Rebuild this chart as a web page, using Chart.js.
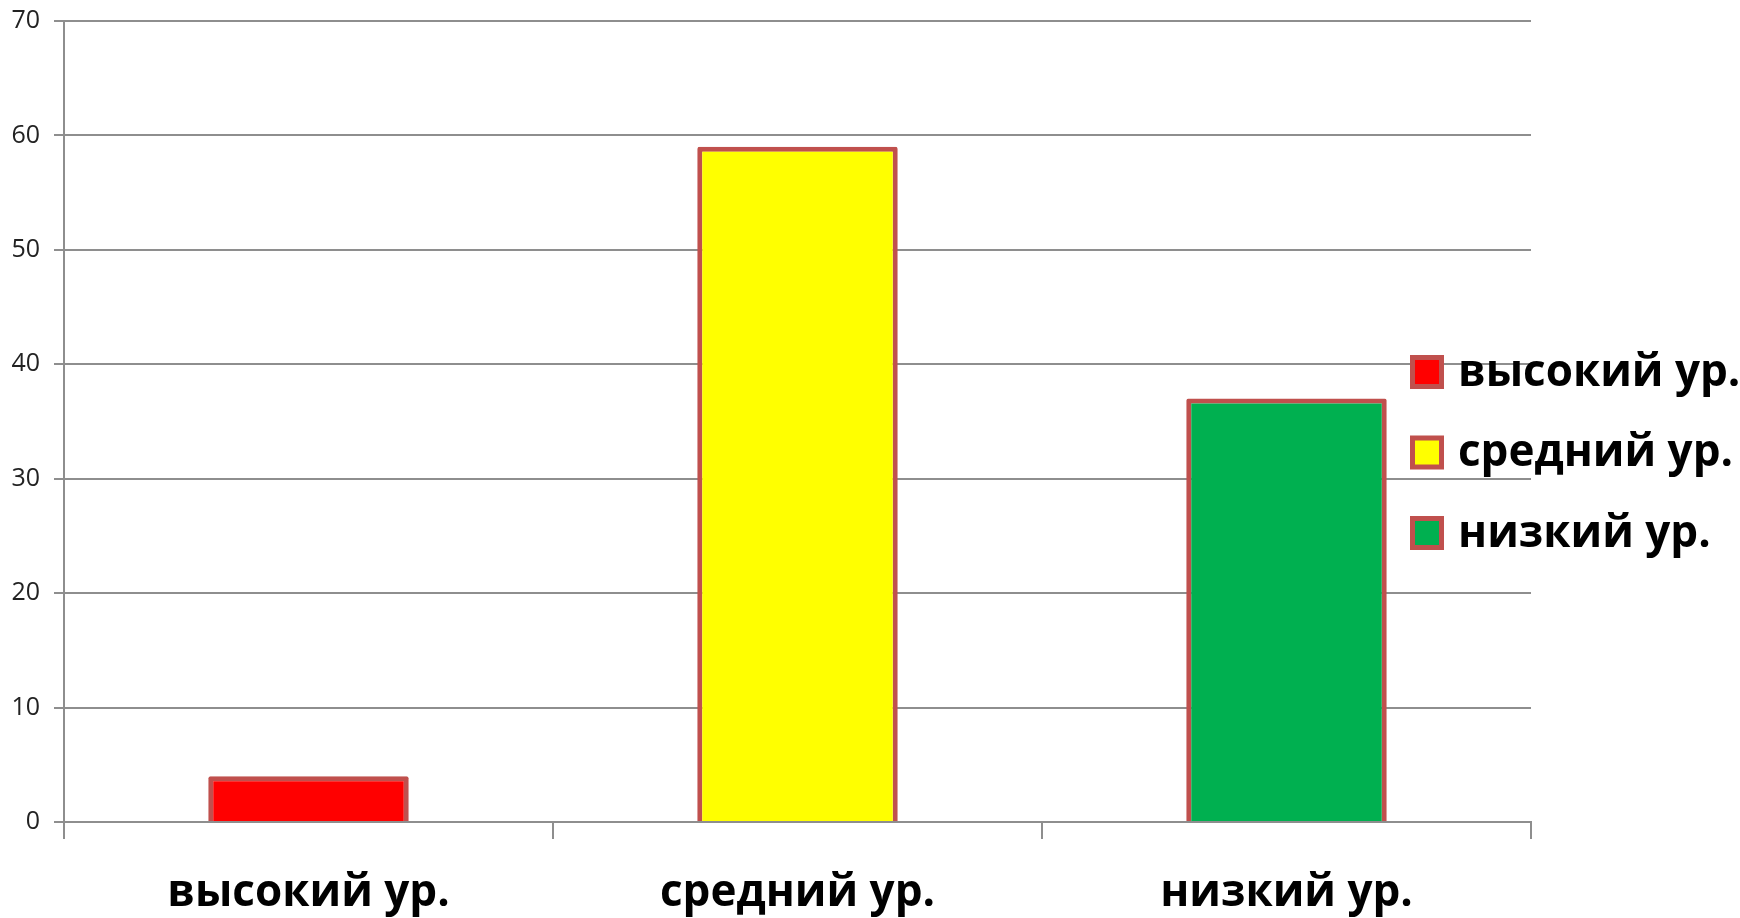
<!DOCTYPE html>
<html>
<head>
<meta charset="utf-8">
<script src="https://cdn.jsdelivr.net/npm/chart.js@4.4.0/dist/chart.umd.min.js"></script>
<style>
  html, body { margin: 0; padding: 0; background: #fff; }
  #wrap { width: 1740px; height: 918px; }
</style>
</head>
<body>
<div id="wrap"><canvas id="levelsChart"></canvas></div>
<script>
// Data
const categories = ['высокий ур.', 'средний ур.', 'низкий ур.'];
const levelValues = [4, 59, 37];
const barColors = ['#FF0000', '#FFFF00', '#00B050'];
const yTicks = [0, 10, 20, 30, 40, 50, 60, 70];

const BORDER_COLOR = '#C0504D';
const GRID_COLOR = '#8e8e8e';

// Legend drawn over the right part of the plot, like the original
const overlayLegend = {
  id: 'overlayLegend',
  afterDraw(chart) {
    const ctx = chart.ctx;
    const ds = chart.data.datasets[0];
    const x0 = 1410, y0 = 372, rowGap = 80.5, box = 34;
    ctx.save();
    chart.data.labels.forEach((label, i) => {
      const cy = y0 + i * rowGap;
      ctx.fillStyle = ds.backgroundColor[i];
      ctx.strokeStyle = BORDER_COLOR;
      ctx.lineWidth = 5;
      ctx.fillRect(x0 + 2.5, cy - box / 2 + 2.5, box - 5, box - 5);
      ctx.strokeRect(x0 + 2.5, cy - box / 2 + 2.5, box - 5, box - 5);
      ctx.fillStyle = '#000';
      ctx.font = 'bold 44px "Open Sans"';
      ctx.textBaseline = 'middle';
      ctx.textAlign = 'left';
      ctx.fillText(label, x0 + 48, cy + 1);
    });
    ctx.restore();
  }
};

new Chart(document.getElementById('levelsChart'), {
  type: 'bar',
  data: {
    labels: categories,
    datasets: [{
      data: levelValues,
      backgroundColor: barColors,
      borderColor: BORDER_COLOR,
      borderWidth: 5,
      borderRadius: 2,
      categoryPercentage: 1,
      barPercentage: 0.41
    }]
  },
  options: {
    responsive: true,
    maintainAspectRatio: false,
    animation: false,
    layout: { padding: { top: 21, right: 209, left: 0, bottom: 0 } },
    plugins: {
      legend: { display: false },
      tooltip: { enabled: false }
    },
    scales: {
      x: {
        grid: {
          offset: true,
          drawOnChartArea: false,
          drawTicks: true,
          tickLength: 17,
          color: GRID_COLOR,
          lineWidth: 2
        },
        border: { color: GRID_COLOR, width: 2 },
        ticks: {
          color: '#000',
          padding: 28,
          font: { family: '"Open Sans"', size: 44, weight: 'bold' }
        },
        afterFit(scale) {
          scale.height = 96;
          scale.paddingLeft = 0;
          scale.paddingRight = 0;
        }
      },
      y: {
        min: 0,
        max: 70,
        afterBuildTicks(scale) { scale.ticks = yTicks.map(v => ({ value: v })); },
        grid: {
          color: GRID_COLOR,
          lineWidth: 2,
          tickLength: 10
        },
        border: { color: GRID_COLOR, width: 2 },
        ticks: {
          color: '#222',
          padding: 14,
          font: { family: '"Open Sans"', size: 25 }
        },
        afterFit(scale) {
          scale.width = 64;
          scale.paddingTop = 0;
          scale.paddingBottom = 0;
        }
      }
    }
  },
  plugins: [overlayLegend]
});
</script>
</body>
</html>
